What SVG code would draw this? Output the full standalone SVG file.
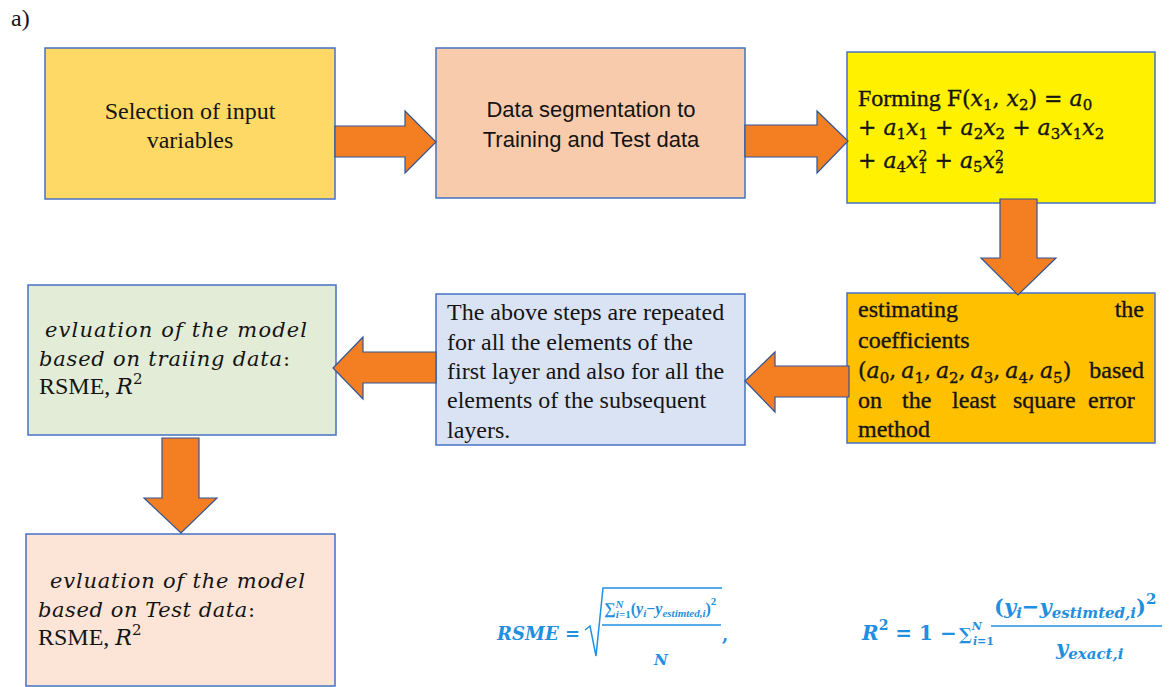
<svg xmlns="http://www.w3.org/2000/svg" width="1169" height="687" viewBox="0 0 1169 687">
<style>
  .box{stroke:#4472C4;stroke-width:1.5}
  .arrow{fill:#F47E22;stroke:#2F5597;stroke-width:1.2;stroke-linejoin:miter}
  .tr{font-family:"Liberation Serif","Times New Roman",serif;font-size:24px;fill:#141414}
  .dk{stroke:#141414;stroke-width:0.35}
  .sans{font-family:"Liberation Sans",Arial,sans-serif;font-size:22px;fill:#141414}
  .m{font-family:"DejaVu Serif",serif;font-size:22px}
  .mi{font-family:"DejaVu Serif",serif;font-style:italic}
  .s{font-size:15px}
  .cm{font-family:"DejaVu Serif",serif;font-style:italic;font-size:21px;fill:#141414}
  .f{font-family:"DejaVu Serif",serif;font-weight:bold;fill:#1F8FE0}
  .fs{font-family:"Liberation Serif","Times New Roman",serif;font-weight:bold;fill:#1F8FE0}
  .fi{font-style:italic}
  .fl{stroke:#1F8FE0;stroke-width:1.5;fill:none}
</style>
<rect width="1169" height="687" fill="#ffffff"/>
<text class="tr" x="11" y="26" font-size="23">a)</text>

<!-- step 1 -->
<g id="node-select">
  <rect class="box" x="45" y="48" width="290" height="151" fill="#FFD966"/>
  <text class="tr" x="190" y="119" text-anchor="middle">Selection of input</text>
  <text class="tr" x="190" y="148" text-anchor="middle">variables</text>
</g>

<!-- step 2 -->
<g id="node-segment">
  <rect class="box" x="436" y="48" width="309" height="150" fill="#F8CBAD"/>
  <text class="sans" x="591" y="117" text-anchor="middle">Data segmentation to</text>
  <text class="sans" x="591" y="147" text-anchor="middle">Training and Test data</text>
</g>

<!-- step 3: polynomial -->
<g id="node-polynomial">
  <rect class="box" x="847" y="52" width="308" height="151" fill="#FFF100"/>
  <text class="tr dk" x="858" y="106">Forming <tspan class="m">F(</tspan><tspan class="m mi">x</tspan><tspan class="m s" dy="4">1</tspan><tspan class="m" dy="-4">, </tspan><tspan class="m mi">x</tspan><tspan class="m s" dy="4">2</tspan><tspan class="m" dy="-4">) = </tspan><tspan class="m mi">a</tspan><tspan class="m s" dy="4">0</tspan></text>
  <text class="tr m dk" x="858" y="135">+ <tspan class="mi">a</tspan><tspan class="s" dy="4">1</tspan><tspan class="mi" dy="-4">x</tspan><tspan class="s" dy="4">1</tspan><tspan dy="-4"> + </tspan><tspan class="mi">a</tspan><tspan class="s" dy="4">2</tspan><tspan class="mi" dy="-4">x</tspan><tspan class="s" dy="4">2</tspan><tspan dy="-4"> + </tspan><tspan class="mi">a</tspan><tspan class="s" dy="4">3</tspan><tspan class="mi" dy="-4">x</tspan><tspan class="s" dy="4">1</tspan><tspan class="mi" dy="-4">x</tspan><tspan class="s" dy="4">2</tspan></text>
  <text class="tr m dk" x="858" y="168">+ <tspan class="mi">a</tspan><tspan class="s" dy="4">4</tspan><tspan class="mi" dy="-4">x</tspan><tspan font-size="14" dy="-7">2</tspan><tspan font-size="14" dx="-8.9" dy="12">1</tspan><tspan dy="-5"> + </tspan><tspan class="mi">a</tspan><tspan class="s" dy="4">5</tspan><tspan class="mi" dy="-4">x</tspan><tspan font-size="14" dy="-7">2</tspan><tspan font-size="14" dx="-8.9" dy="12">2</tspan></text>
</g>

<!-- step 4: coefficients -->
<g id="node-coefficients">
  <rect class="box" x="847" y="293" width="308" height="150" fill="#FFC000"/>
  <text class="tr dk" x="858" y="317">estimating</text>
  <text class="tr dk" x="1144" y="317" text-anchor="end">the</text>
  <text class="tr dk" x="858" y="348">coefficients</text>
  <text class="tr m dk" x="858" y="378">(<tspan class="mi">a</tspan><tspan class="s" dy="5">0</tspan><tspan dy="-5">,</tspan><tspan class="mi" dx="5">a</tspan><tspan class="s" dy="5">1</tspan><tspan dy="-5">,</tspan><tspan class="mi" dx="5">a</tspan><tspan class="s" dy="5">2</tspan><tspan dy="-5">,</tspan><tspan class="mi" dx="5">a</tspan><tspan class="s" dy="5">3</tspan><tspan dy="-5">,</tspan><tspan class="mi" dx="5">a</tspan><tspan class="s" dy="5">4</tspan><tspan dy="-5">,</tspan><tspan class="mi" dx="5">a</tspan><tspan class="s" dy="5">5</tspan><tspan dy="-5">)</tspan></text>
  <text class="tr dk" x="1144" y="378" text-anchor="end">based</text>
  <text class="tr dk" y="408"><tspan x="858">on</tspan><tspan x="902">the</tspan><tspan x="952">least</tspan><tspan x="1013">square</tspan><tspan x="1088">error</tspan></text>
  <text class="tr dk" x="858" y="437">method</text>
</g>

<!-- step 5: repetition note -->
<g id="node-repeat">
  <rect class="box" x="436" y="294" width="309" height="151" fill="#DAE3F3"/>
  <text class="tr" x="447" y="320">The above steps are repeated</text>
  <text class="tr" x="447" y="350">for all the elements of the</text>
  <text class="tr" x="447" y="379">first layer and also for all the</text>
  <text class="tr" x="447" y="408">elements of the subsequent</text>
  <text class="tr" x="447" y="438">layers.</text>
</g>

<!-- evaluation on training data -->
<g id="node-eval-train">
  <rect class="box" x="28" y="285" width="308" height="150" fill="#E2ECD7"/>
  <text class="cm" x="45" y="337" textLength="262" lengthAdjust="spacing">evluation of the model</text>
  <text class="cm" x="39" y="366" textLength="251" lengthAdjust="spacing">based on traiing data<tspan font-style="normal">:</tspan></text>
  <text class="tr" x="39" y="394">RSME, <tspan class="mi" font-size="22">R</tspan><tspan class="m s" dy="-10" font-style="normal">2</tspan></text>
</g>

<!-- evaluation on test data -->
<g id="node-eval-test">
  <rect class="box" x="26" y="534" width="309" height="152" fill="#FCE4D6"/>
  <text class="cm" x="50" y="588" textLength="255" lengthAdjust="spacing">evluation of the model</text>
  <text class="cm" x="38" y="617" textLength="217" lengthAdjust="spacing">based on Test data<tspan font-style="normal">:</tspan></text>
  <text class="tr" x="38" y="645">RSME, <tspan class="mi" font-size="22">R</tspan><tspan class="m s" dy="-10" font-style="normal">2</tspan></text>
</g>

<!-- block arrows between the steps -->
<g id="connectors">
  <path class="arrow" d="M335,126 H405 V111 L436,142 L405,173 V157 H335 Z"/>
  <path class="arrow" d="M745,125 H817 V111 L848,141 L817,173 V157 H745 Z"/>
  <path class="arrow" d="M1000,199 V258 H981 L1018,295 L1056,258 H1037 V199 Z"/>
  <path class="arrow" d="M849,366 H775 V352 L745,381 L775,412 V397 H849 Z"/>
  <path class="arrow" d="M436,352 H363 V337 L333,368 L363,399 V383 H436 Z"/>
  <path class="arrow" d="M162,438 V498 H144 L181,533 L217,498 H199 V438 Z"/>
</g>

<!-- error measures -->
<g id="formulas">
  <text class="f" x="497" y="640" font-size="18"><tspan class="fi">RSME</tspan> =</text>
  <path class="fl" d="M585,630 L590,626 L596,656 L603,588 H722"/>
  <text class="fs" x="604" y="614" font-size="16">∑<tspan class="fi" font-size="11" dy="-6">N</tspan><tspan font-size="11" class="fi" dx="-7.5" dy="10">i</tspan><tspan font-size="11">=1</tspan><tspan dy="-4">(</tspan><tspan class="fi">y</tspan><tspan class="fi" font-size="11" dy="3">i</tspan><tspan dy="-3">−</tspan><tspan class="fi">y</tspan><tspan class="fi" font-size="11" dy="3">estimted,i</tspan><tspan dy="-3">)</tspan><tspan font-size="11" dy="-9">2</tspan></text>
  <line class="fl" x1="602" y1="625" x2="721" y2="625"/>
  <text class="f fi" x="654" y="665" font-size="15">N</text>
  <text class="f" x="722" y="641" font-size="18">,</text>

  <text class="f" x="862" y="640" font-size="20"><tspan class="fi">R</tspan><tspan font-size="14" dy="-10">2</tspan><tspan dy="10"> = 1 − </tspan></text>
  <text class="f" x="959" y="640" font-size="17">∑<tspan class="fi" font-size="11" dy="-10">N</tspan><tspan class="fi" font-size="11" dx="-9" dy="15">i</tspan><tspan font-size="11">=1</tspan></text>
  <text class="f" x="994" y="614" font-size="21">(<tspan class="fi">y</tspan><tspan class="fi" font-size="15" dy="4">i</tspan><tspan dy="-4">−</tspan><tspan class="fi">y</tspan><tspan class="fi" font-size="15" dy="4">estimted,i</tspan><tspan dy="-4">)</tspan><tspan font-size="15" dy="-10">2</tspan></text>
  <line class="fl" x1="991" y1="626" x2="1162" y2="626"/>
  <text class="f" x="1056" y="655" font-size="21"><tspan class="fi">y</tspan><tspan class="fi" font-size="15" dy="4">exact,i</tspan></text>
</g>
</svg>
